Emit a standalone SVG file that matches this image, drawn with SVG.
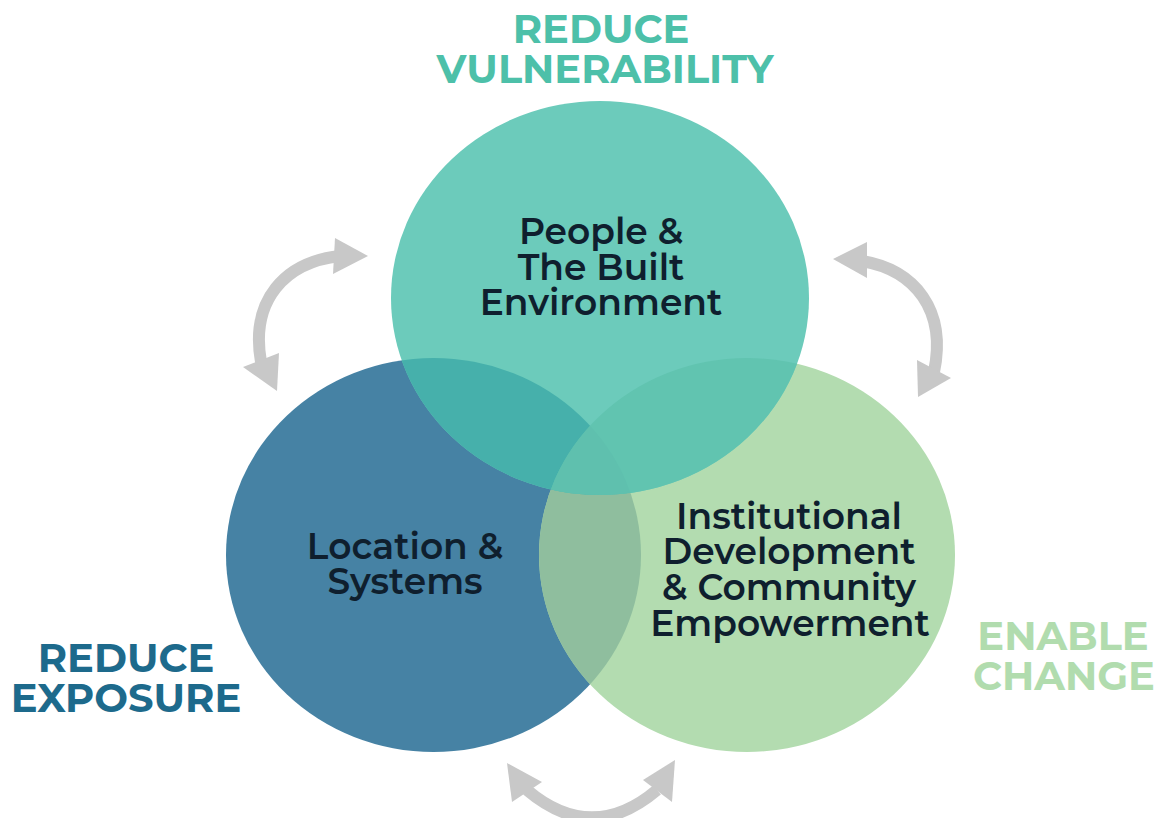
<svg xmlns="http://www.w3.org/2000/svg" width="1156" height="818" viewBox="0 0 1156 818">
<style>
.lbl{font-family:Montserrat,Inter,"Open Sans","Liberation Sans",sans-serif;font-weight:700;text-anchor:middle}
.node{font-size:36px;font-weight:600;fill:#0f1f2e}
.title{font-size:40px}
.arc{fill:none;stroke:#c8c8c8;stroke-width:12}
.head{fill:#c8c8c8}
</style>
<defs>
<clipPath id="cL"><ellipse cx="433.5" cy="555" rx="207.5" ry="197"/></clipPath>
<clipPath id="cR"><ellipse cx="747" cy="555" rx="208" ry="197"/></clipPath>
</defs>
<rect width="1156" height="818" fill="#ffffff"/>
<g id="connectors">
<path class="arc" d="M 340 256 C 285 262 250 300 261 362"/>
<polygon class="head" points="368,256 335,238 333,274"/>
<polygon class="head" points="277,391 243,367 279,353"/>
<path class="arc" d="M 862 261 C 915 270 947 310 934 372"/>
<polygon class="head" points="833,259 867,242 867,278"/>
<polygon class="head" points="918,397 917,360 951,378"/>
<path class="arc" d="M 527 790 Q 592 845 657 790"/>
<polygon class="head" points="507,763 542,782 512,802"/>
<polygon class="head" points="675,760 643,780 672,802"/>
</g>
<g id="node-location">
<ellipse cx="433.5" cy="555" rx="207.5" ry="197" fill="#4682a4"/>
</g>
<g id="node-institutional">
<ellipse cx="747" cy="555" rx="208" ry="197" fill="#b3dcb0"/>
</g>
<g id="node-people">
<ellipse cx="600" cy="298" rx="209" ry="197" fill="#6ccbbb"/>
</g>
<g id="overlaps">
<ellipse cx="747" cy="555" rx="208" ry="197" fill="#8fbe9e" clip-path="url(#cL)"/>
<ellipse cx="600" cy="298" rx="209" ry="197" fill="#46b0ab" clip-path="url(#cL)"/>
<ellipse cx="600" cy="298" rx="209" ry="197" fill="#61c4b0" clip-path="url(#cR)"/>
<g clip-path="url(#cL)"><ellipse cx="600" cy="298" rx="209" ry="197" fill="#5fc0ae" clip-path="url(#cR)"/></g>
</g>
<g id="labels-people">
<text class="lbl node" x="601" y="244">People &amp;</text>
<text class="lbl node" x="601" y="280">The Built</text>
<text class="lbl node" x="601" y="315">Environment</text>
</g>
<g id="labels-location">
<text class="lbl node" x="405" y="559">Location &amp;</text>
<text class="lbl node" x="405" y="594">Systems</text>
</g>
<g id="labels-institutional">
<text class="lbl node" x="789" y="529">Institutional</text>
<text class="lbl node" x="789" y="564">Development</text>
<text class="lbl node" x="789" y="600">&amp; Community</text>
<text class="lbl node" x="790" y="636">Empowerment</text>
</g>
<g id="titles">
<text class="lbl title" x="601" y="43" fill="#4dc0a9">REDUCE</text>
<text class="lbl title" x="605" y="83" fill="#4dc0a9">VULNERABILITY</text>
<text class="lbl title" x="126" y="672" fill="#1d6a8c">REDUCE</text>
<text class="lbl title" x="126" y="712" fill="#1d6a8c">EXPOSURE</text>
<text class="lbl title" x="1063" y="650" fill="#b1dcae">ENABLE</text>
<text class="lbl title" x="1064" y="690" fill="#b1dcae">CHANGE</text>
</g>
</svg>
